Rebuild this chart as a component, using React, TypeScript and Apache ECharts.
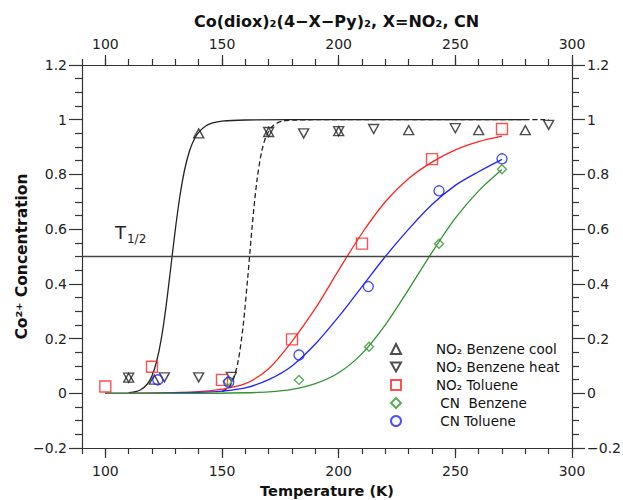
import React, { useEffect, useRef } from 'react';
import * as echarts from 'echarts';

// ---- tick labels ----
const xMajorTicks = [100, 150, 200, 250, 300];

// ---- measured points [T (K), Co2+ concentration] ----
const no2BenzeneCool = [[110, 0.057], [121, 0.05], [140, 0.95], [170, 0.955], [200, 0.958], [230, 0.962], [260, 0.962], [280, 0.962]];
const no2BenzeneHeat = [[110, 0.057], [125.3, 0.058], [140, 0.058], [154, 0.06], [170, 0.955], [185, 0.95], [200, 0.958], [215, 0.966], [250, 0.969], [290, 0.981]];
const no2Toluene = [[100, 0.025], [120, 0.097], [150, 0.049], [180, 0.197], [210, 0.547], [240, 0.856], [270, 0.966]];
const cnBenzene = [[152.5, 0.043], [183, 0.049], [213, 0.17], [243, 0.547], [270, 0.819]];
const cnToluene = [[122.5, 0.049], [152.9, 0.04], [183, 0.14], [212.7, 0.39], [243, 0.74], [270, 0.857]];

// ---- fitted curves ----
const fitCool = [[110, 0.002], [112, 0.004], [115, 0.012], [118, 0.034], [120, 0.064], [122, 0.117], [124, 0.2], [126, 0.316], [128, 0.456], [130, 0.599], [132, 0.723], [134, 0.818], [136, 0.884], [138, 0.927], [140, 0.954], [143, 0.977], [146, 0.988], [150, 0.995], [160, 0.999], [180, 1], [280, 1]];
const fitHeat = [[150, 0.006], [153, 0.023], [155, 0.055], [157, 0.121], [159, 0.242], [161, 0.42], [163, 0.617], [165, 0.779], [167, 0.883], [169, 0.941], [172, 0.979], [176, 0.995], [182, 0.999], [190, 1], [290, 1]];
const fitNo2Toluene = [[100, 0], [120, 0.001], [140, 0.006], [150, 0.015], [160, 0.035], [170, 0.09], [180, 0.19], [190, 0.31], [200, 0.45], [210, 0.585], [220, 0.7], [230, 0.785], [240, 0.845], [250, 0.89], [260, 0.92], [270, 0.94]];
const fitCnToluene = [[100, 0], [120, 0], [140, 0.003], [150, 0.008], [160, 0.02], [170, 0.05], [180, 0.1], [190, 0.18], [200, 0.28], [210, 0.39], [220, 0.5], [230, 0.6], [240, 0.69], [250, 0.76], [260, 0.81], [270, 0.855]];
const fitCnBenzene = [[100, 0], [140, 0], [160, 0.002], [170, 0.005], [180, 0.014], [190, 0.035], [200, 0.075], [210, 0.145], [220, 0.25], [230, 0.38], [240, 0.515], [250, 0.64], [260, 0.74], [270, 0.818]];

const halfLevel = 0.5;

const FONT = 'DejaVu Sans';
const AXIS_COLOR = '#333';
const RED = '#ff2424';
const BLUE = '#2222ff';
const GREEN = '#2f962f';
const BLACK = '#222';

const yFmt = (v: number) => String(+v.toFixed(2)).replace('-', '\u2212');

function xMajor(position: 'top' | 'bottom', withName: boolean) {
  return {
    type: 'value', position, min: 90, max: 300, gridIndex: 0,
    axisLine: { show: true, onZero: false, lineStyle: { color: AXIS_COLOR, width: 1.2 } },
    axisTick: { show: true, inside: false, length: 10, customValues: xMajorTicks, lineStyle: { color: AXIS_COLOR, width: 1.2 } },
    axisLabel: { show: true, customValues: xMajorTicks, margin: position === 'bottom' ? 16 : 14, fontSize: 14, color: '#222', fontFamily: FONT },
    splitLine: { show: false },
    name: withName ? 'Temperature (K)' : '',
    nameLocation: 'middle', nameGap: 35, nameMoveOverlap: false,
    nameTextStyle: { fontSize: 14.5, fontWeight: 'bold', color: '#111', fontFamily: FONT },
  };
}
function xMinor(position: 'top' | 'bottom') {
  return {
    type: 'value', position, min: 90, max: 300, interval: 10, gridIndex: 0,
    axisLine: { show: false, onZero: false },
    axisTick: { show: true, inside: false, length: 6, lineStyle: { color: AXIS_COLOR, width: 1.2 } },
    axisLabel: { show: false },
    splitLine: { show: false },
  };
}
function yAxis(position: 'left' | 'right', withName: boolean) {
  return {
    type: 'value', position, min: -0.2, max: 1.2, interval: 0.2, gridIndex: 0,
    axisLine: { show: true, onZero: false, lineStyle: { color: AXIS_COLOR, width: 1.2 } },
    axisTick: { show: true, inside: false, length: 13, lineStyle: { color: AXIS_COLOR, width: 1.2 } },
    minorTick: { show: true, splitNumber: 4, length: 7, lineStyle: { color: AXIS_COLOR, width: 1.2 } },
    axisLabel: { show: true, margin: 15, fontSize: 14, color: '#222', fontFamily: FONT, formatter: yFmt },
    splitLine: { show: false },
    minorSplitLine: { show: false },
    name: withName ? 'Co\u00b2\u207a Concentration' : '',
    nameLocation: 'middle', nameGap: 52, nameRotate: 90, nameMoveOverlap: false,
    nameTextStyle: { fontSize: 15.5, fontWeight: 'bold', color: '#111', fontFamily: FONT },
  };
}

function fitLine(data: number[][], color: string, dashed = false, extra: any = {}) {
  return {
    type: 'line', data, xAxisIndex: 0, yAxisIndex: 0, showSymbol: false, symbol: 'none',
    smooth: 0.3, silent: true,
    lineStyle: { color, width: 1.3, type: dashed ? [5, 3] : 'solid' },
    z: 2, ...extra,
  };
}
function scatter(name: string, data: number[][], symbol: string, size: any, color: string) {
  return {
    type: 'scatter', name, data, xAxisIndex: 0, yAxisIndex: 0, symbol, symbolSize: size,
    itemStyle: { color: 'rgba(255,255,255,0)', borderColor: color, borderWidth: 1.4 },
    z: 5,
  };
}

const DOWN_TRI = 'path://M0,0 L10,0 L5,9 Z';

export default function App() {
  const ref = useRef<HTMLDivElement>(null);
  useEffect(() => {
    if (!ref.current) return;
    const chart = echarts.init(ref.current, null, { renderer: 'svg' });
    const names = ['NO\u2082 Benzene cool', 'NO\u2082 Benzene heat', 'NO\u2082 Toluene', '\u00a0CN\u00a0 Benzene', '\u00a0CN Toluene'];
    chart.setOption({
      animation: false,
      backgroundColor: '#fff',
      textStyle: { fontFamily: FONT },
      title: {
        text: 'Co(diox)\u2082(4\u2212X\u2212Py)\u2082, X=NO\u2082, CN',
        left: 189, top: 8,
        textStyle: { fontSize: 16, fontWeight: 'bold', color: '#111', fontFamily: FONT },
      },
      grid: { left: 82, right: 51, top: 65, bottom: 52, containLabel: false, outerBoundsMode: 'none' },
      xAxis: [xMajor('bottom', true), xMinor('bottom'), xMajor('top', false), xMinor('top')],
      yAxis: [yAxis('left', true), yAxis('right', false)],
      legend: {
        data: names, orient: 'vertical', left: 385, top: 337, itemGap: 4,
        itemWidth: 10, itemHeight: 10, selectedMode: false,
        textStyle: { fontSize: 13.5, color: '#111', fontFamily: FONT, padding: [0, 0, 0, 30] },
      },
      series: [
        fitLine(fitCool, BLACK, false, {
          markLine: {
            silent: true, symbol: 'none',
            lineStyle: { color: '#444', width: 1.3, type: 'solid' },
            label: {
              show: true, position: 'insideStartTop', distance: [33, 12],
              formatter: '{t|T}{s|1/2}',
              rich: {
                t: { fontSize: 18, color: '#222', fontFamily: FONT },
                s: { fontSize: 12, color: '#222', fontFamily: FONT, padding: [12, 0, 0, 1] },
              },
            },
            data: [{ yAxis: halfLevel }],
          },
        }),
        fitLine(fitHeat, BLACK, true),
        fitLine(fitNo2Toluene, RED),
        fitLine(fitCnToluene, BLUE),
        fitLine(fitCnBenzene, GREEN),
        scatter(names[0], no2BenzeneCool, 'triangle', [10, 9], BLACK),
        scatter(names[1], no2BenzeneHeat, DOWN_TRI, [10, 9], BLACK),
        scatter(names[2], no2Toluene, 'rect', 11, RED),
        scatter(names[3], cnBenzene, 'diamond', 9, GREEN),
        scatter(names[4], cnToluene, 'circle', 10, BLUE),
      ],
    });
    return () => chart.dispose();
  }, []);
  return <div ref={ref} style={{ position: 'fixed', left: 0, top: 0, width: 623, height: 500 }} />;
}
